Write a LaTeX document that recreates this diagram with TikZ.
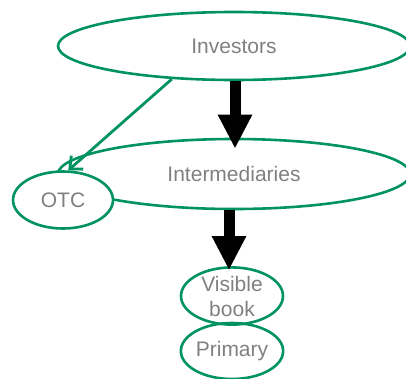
\documentclass[tikz,border=0pt]{standalone}
\usepackage{fontspec}
\setmainfont{Liberation Sans}
\usetikzlibrary{arrows.meta,shapes.geometric}
\definecolor{grn}{RGB}{0,146,96}
\definecolor{txt}{RGB}{128,128,128}
\tikzset{
  ell/.style={draw=grn, line width=2.6pt, ellipse, inner sep=0pt, text=txt,
    font=\fontsize{21}{25}\selectfont, align=center},
  bigarrow/.style={line width=11pt, -{Triangle[width=32pt,length=34pt]}, black},
  grnarrow/.style={draw=grn, line width=2.8pt, -{Straight Barb[length=10pt,width=18pt,line width=2.8pt]}}
}
\begin{document}
\begin{tikzpicture}[x=1pt,y=-1pt]
\useasboundingbox (0,0) rectangle (406,378);
\node[ell, minimum width=352pt, minimum height=68pt] (inv) at (234,46) {Investors};
\node[ell, minimum width=352pt, minimum height=70pt] (inter) at (234,174) {Intermediaries};
\node[ell, fill=white, minimum width=100pt, minimum height=57pt] (otc) at (63,200) {OTC};
\node[ell, minimum width=102pt, minimum height=54pt] (vis) at (232,296) {Visible\\book};
\node[ell, minimum width=102pt, minimum height=56pt] (prim) at (232,351) {Primary};
\draw[grnarrow] (inv.208) -- (otc.80);
\draw[bigarrow, shorten >=-11pt] ([xshift=1pt]inv.south) -- ([xshift=1pt]inter.north);
\draw[bigarrow, shorten >=-4pt] ([xshift=-5pt]inter.south) -- ([xshift=-3pt]vis.north);
\end{tikzpicture}
\end{document}
